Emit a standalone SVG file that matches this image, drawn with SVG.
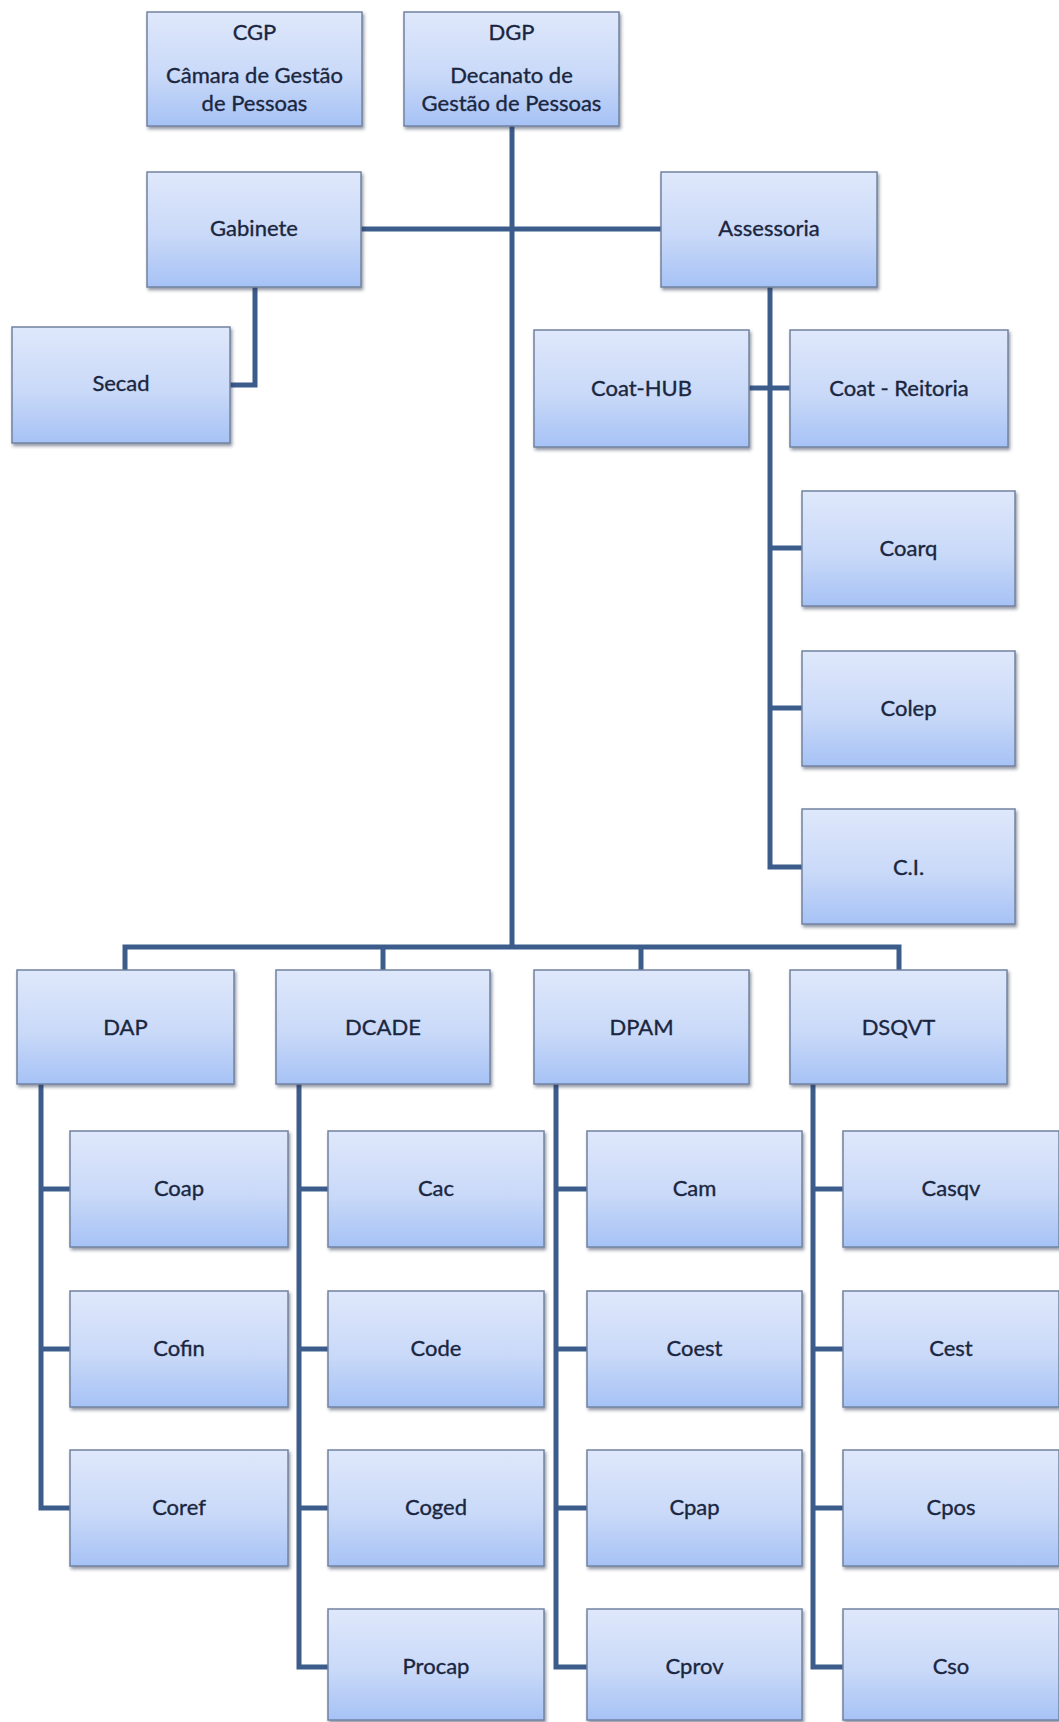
<svg xmlns="http://www.w3.org/2000/svg" width="1059" height="1722" viewBox="0 0 1059 1722">
  <defs>
    <linearGradient id="boxFill" x1="0" y1="0" x2="0" y2="1">
      <stop offset="0" stop-color="#dfe8fb"/>
      <stop offset="0.55" stop-color="#c9d9f8"/>
      <stop offset="1" stop-color="#a6c2f5"/>
    </linearGradient>
    <filter id="shadow" x="-5%" y="-5%" width="115%" height="120%">
      <feDropShadow dx="1.5" dy="2.5" stdDeviation="1.6" flood-color="#2a3550" flood-opacity="0.5"/>
    </filter>
  </defs>
  <style>
    .box { fill: url(#boxFill); stroke: #7283a0; stroke-width: 1.5; filter: url(#shadow); }
    .lbl { font-family: Lato, "Liberation Sans", "DejaVu Sans", sans-serif; font-size: 22px; fill: #1a2640; stroke: #1a2640; stroke-width: 0.35; text-anchor: middle; }
    .conn { fill: none; stroke: #3c5c8b; stroke-width: 5; stroke-linejoin: miter; }
  </style>

  <rect width="1059" height="1722" fill="#ffffff"/>

  <!-- connectors -->
  <g id="connectors" class="conn">
    <path d="M512 126 V947"/>
    <path d="M361 229 H661"/>
    <path d="M255 287 V385 H230"/>
    <path d="M770 287 V867 H802"/>
    <path d="M749 388 H790"/>
    <path d="M770 548 H802"/>
    <path d="M770 708 H802"/>
    <path d="M125 970 V947 H899 V970"/>
    <path d="M383 947 V970"/>
    <path d="M641 947 V970"/>
    <path d="M41 1084 V1508 H70"/>
    <path d="M41 1189 H70"/>
    <path d="M41 1349 H70"/>
    <path d="M299 1084 V1667 H328"/>
    <path d="M299 1189 H328"/>
    <path d="M299 1349 H328"/>
    <path d="M299 1508 H328"/>
    <path d="M556 1084 V1667 H587"/>
    <path d="M556 1189 H587"/>
    <path d="M556 1349 H587"/>
    <path d="M556 1508 H587"/>
    <path d="M813 1084 V1667 H843"/>
    <path d="M813 1189 H843"/>
    <path d="M813 1349 H843"/>
    <path d="M813 1508 H843"/>
  </g>

  <!-- top level -->
  <g id="cgp">
    <rect class="box" x="147" y="12" width="215" height="114"/>
    <text class="lbl" x="254.5" y="40">CGP</text>
    <text class="lbl" x="254.5" y="83">Câmara de Gestão</text>
    <text class="lbl" x="254.5" y="111">de Pessoas</text>
  </g>
  <g id="dgp">
    <rect class="box" x="404" y="12" width="215" height="114"/>
    <text class="lbl" x="511.5" y="40">DGP</text>
    <text class="lbl" x="511.5" y="83">Decanato de</text>
    <text class="lbl" x="511.5" y="111">Gestão de Pessoas</text>
  </g>
  <g id="gabinete">
    <rect class="box" x="147" y="172" width="214" height="115"/>
    <text class="lbl" x="254" y="236">Gabinete</text>
  </g>
  <g id="assessoria">
    <rect class="box" x="661" y="172" width="216" height="115"/>
    <text class="lbl" x="769" y="236">Assessoria</text>
  </g>
  <g id="secad">
    <rect class="box" x="12" y="327" width="218" height="116"/>
    <text class="lbl" x="121" y="391">Secad</text>
  </g>
  <g id="coat-hub">
    <rect class="box" x="534" y="330" width="215" height="117"/>
    <text class="lbl" x="641.5" y="396">Coat-HUB</text>
  </g>
  <g id="coat-reitoria">
    <rect class="box" x="790" y="330" width="218" height="117"/>
    <text class="lbl" x="899" y="396">Coat - Reitoria</text>
  </g>
  <g id="coarq">
    <rect class="box" x="802" y="491" width="213" height="115"/>
    <text class="lbl" x="908.5" y="556">Coarq</text>
  </g>
  <g id="colep">
    <rect class="box" x="802" y="651" width="213" height="115"/>
    <text class="lbl" x="908.5" y="716">Colep</text>
  </g>
  <g id="ci">
    <rect class="box" x="802" y="809" width="213" height="115"/>
    <text class="lbl" x="908.5" y="875">C.I.</text>
  </g>

  <!-- directorates -->
  <g id="dap">
    <rect class="box" x="17" y="970" width="217" height="114"/>
    <text class="lbl" x="125.5" y="1035">DAP</text>
  </g>
  <g id="dcade">
    <rect class="box" x="276" y="970" width="214" height="114"/>
    <text class="lbl" x="383" y="1035">DCADE</text>
  </g>
  <g id="dpam">
    <rect class="box" x="534" y="970" width="215" height="114"/>
    <text class="lbl" x="641.5" y="1035">DPAM</text>
  </g>
  <g id="dsqvt">
    <rect class="box" x="790" y="970" width="217" height="114"/>
    <text class="lbl" x="898.5" y="1035">DSQVT</text>
  </g>

  <!-- DAP units -->
  <g id="coap">
    <rect class="box" x="70" y="1131" width="218" height="116"/>
    <text class="lbl" x="179" y="1196">Coap</text>
  </g>
  <g id="cofin">
    <rect class="box" x="70" y="1291" width="218" height="116"/>
    <text class="lbl" x="179" y="1356">Cofin</text>
  </g>
  <g id="coref">
    <rect class="box" x="70" y="1450" width="218" height="116"/>
    <text class="lbl" x="179" y="1515">Coref</text>
  </g>

  <!-- DCADE units -->
  <g id="cac">
    <rect class="box" x="328" y="1131" width="216" height="116"/>
    <text class="lbl" x="436" y="1196">Cac</text>
  </g>
  <g id="code">
    <rect class="box" x="328" y="1291" width="216" height="116"/>
    <text class="lbl" x="436" y="1356">Code</text>
  </g>
  <g id="coged">
    <rect class="box" x="328" y="1450" width="216" height="116"/>
    <text class="lbl" x="436" y="1515">Coged</text>
  </g>
  <g id="procap">
    <rect class="box" x="328" y="1609" width="216" height="111"/>
    <text class="lbl" x="436" y="1674">Procap</text>
  </g>

  <!-- DPAM units -->
  <g id="cam">
    <rect class="box" x="587" y="1131" width="215" height="116"/>
    <text class="lbl" x="694.5" y="1196">Cam</text>
  </g>
  <g id="coest">
    <rect class="box" x="587" y="1291" width="215" height="116"/>
    <text class="lbl" x="694.5" y="1356">Coest</text>
  </g>
  <g id="cpap">
    <rect class="box" x="587" y="1450" width="215" height="116"/>
    <text class="lbl" x="694.5" y="1515">Cpap</text>
  </g>
  <g id="cprov">
    <rect class="box" x="587" y="1609" width="215" height="111"/>
    <text class="lbl" x="694.5" y="1674">Cprov</text>
  </g>

  <!-- DSQVT units -->
  <g id="casqv">
    <rect class="box" x="843" y="1131" width="216" height="116"/>
    <text class="lbl" x="951" y="1196">Casqv</text>
  </g>
  <g id="cest">
    <rect class="box" x="843" y="1291" width="216" height="116"/>
    <text class="lbl" x="951" y="1356">Cest</text>
  </g>
  <g id="cpos">
    <rect class="box" x="843" y="1450" width="216" height="116"/>
    <text class="lbl" x="951" y="1515">Cpos</text>
  </g>
  <g id="cso">
    <rect class="box" x="843" y="1609" width="216" height="111"/>
    <text class="lbl" x="951" y="1674">Cso</text>
  </g>
</svg>
